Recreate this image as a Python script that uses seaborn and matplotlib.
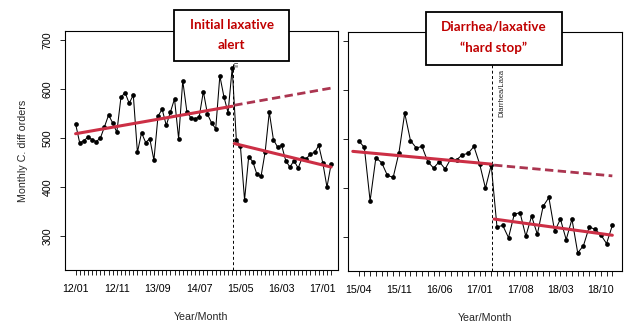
import numpy as np
import pandas as pd
import matplotlib
matplotlib.use("Agg")
import matplotlib.pyplot as plt
import seaborn as sns
from matplotlib.patches import Rectangle

# months shown in each panel (yy/mm)
left_months = pd.period_range("2012-01", "2017-03", freq="M").strftime("%y/%m").tolist()
right_months = pd.period_range("2015-04", "2018-12", freq="M").strftime("%y/%m").tolist()

left_tick_labels = ["12/01", "12/11", "13/09", "14/07", "15/05", "16/03", "17/01"]
right_tick_labels = ["15/04", "15/11", "16/06", "17/01", "17/08", "18/03", "18/10"]
y_ticks = [300, 400, 500, 600, 700]

# monthly C. diff orders
pre_alert_orders = [529, 490, 495, 502, 497, 493, 500, 523, 547, 531, 512, 583, 593,
                    571, 588, 471, 511, 491, 499, 455, 545, 559, 526, 553, 580, 499,
                    617, 554, 541, 539, 544, 595, 549, 531, 519, 627, 584, 552, 643]
# 15/04 - 17/03, shown in both panels
between_orders = [497, 483, 374, 462, 452, 426, 422, 472, 553, 497, 482, 485,
                  454, 441, 454, 439, 460, 458, 468, 471, 485, 449, 400, 447]
post_stop_orders = [321, 324, 299, 347, 350, 302, 343, 306, 363, 381, 312,
                    337, 295, 337, 268, 283, 321, 316, 305, 287, 324]

left_orders = pre_alert_orders + between_orders
right_orders = between_orders + post_stop_orders

# fitted segments (month index, value)
left_pre_x, left_pre_y = [0, 38], [509, 565]
left_post_x, left_post_y = [38.5, 62], [489, 441]
left_cf_x, left_cf_y = [38.5, 62], [567, 602]
right_pre_x, right_pre_y = [-1, 23], [475, 449]
right_post_x, right_post_y = [23.5, 44], [337, 304]
right_cf_x, right_cf_y = [23.5, 44], [447, 425]

left_event = 38.2
right_event = 23.2

RED = "#cc2f45"
RED_DASH = "#ab3550"
BOX_RED = "#c00000"

sns.set_style("ticks")
plt.rcParams["font.family"] = ["Liberation Sans", "DejaVu Sans"]

fig = plt.figure(figsize=(6.24, 3.25), dpi=100)
ax_l = fig.add_axes([0.104, 0.169, 0.4375, 0.735])
ax_r = fig.add_axes([0.558, 0.166, 0.439, 0.735])


def draw_panel(ax, months, orders, tick_labels, pre, post, cf, event, xlim):
    df = pd.DataFrame({"idx": np.arange(len(orders)), "orders": orders})
    sns.lineplot(data=df, x="idx", y="orders", ax=ax, color="black", lw=0.75,
                 marker="o", markersize=3.4, markeredgewidth=0, zorder=3)
    for (xs, ys) in (pre, post):
        sns.lineplot(x=xs, y=ys, ax=ax, color=RED, lw=2.2, zorder=4)
    sns.lineplot(x=cf[0], y=cf[1], ax=ax, color=RED_DASH, lw=2.0, zorder=4,
                 linestyle=(0, (3, 1.6)))
    ax.axvline(event, color="black", lw=0.7, linestyle=(0, (3, 2.5)), zorder=2)

    ax.set_xlim(*xlim)
    ax.set_ylim(231, 718)
    ax.set_xticks(np.arange(len(months)))
    ax.set_xticklabels([m if m in tick_labels else "" for m in months])
    ax.set_yticks(y_ticks)
    ax.set_xlabel("Year/Month", fontsize=7.7, labelpad=13)
    for s in ax.spines.values():
        s.set_visible(True)
        s.set_color("black")
        s.set_linewidth(0.8)
    ax.tick_params(axis="both", direction="out", length=3.6, width=0.6,
                   colors="black", labelsize=7.7)
    ax.tick_params(axis="x", pad=6.5)


draw_panel(ax_l, left_months, left_orders, left_tick_labels,
           (left_pre_x, left_pre_y), (left_post_x, left_post_y),
           (left_cf_x, left_cf_y), left_event, (-2.6, 63.65))
draw_panel(ax_r, right_months, right_orders, right_tick_labels,
           (right_pre_x, right_pre_y), (right_post_x, right_post_y),
           (right_cf_x, right_cf_y), right_event, (-1.8, 45.7))

ax_l.set_ylabel("Monthly C. diff orders", fontsize=7.7, labelpad=11)
ax_l.tick_params(axis="y", pad=5)
plt.setp(ax_l.get_yticklabels(), rotation=90, va="center")
ax_r.set_ylabel("")
ax_r.set_yticklabels([])

# small rotated event labels, the rest is hidden behind the callout boxes
ax_l.text(left_event + 0.9, 645, "In", rotation=90, fontsize=5.5,
          ha="center", va="bottom", zorder=1)
ax_r.text(right_event + 1.7, 545, "Diarrhea/Laxa", rotation=90,
          fontsize=5.5, ha="center", va="bottom", zorder=1)

# callout boxes
boxes = [
    ((0.2788, 0.8123), 0.1843, 0.1569, 0.371, (0.923, 0.8615),
     ["Initial laxative", "alert"]),
    ((0.6822, 0.800), 0.2179, 0.164, 0.791, (0.917, 0.852),
     ["Diarrhea/laxative", "\u201chard stop\u201d"]),
]
for (x0, y0), w, h, xc, ys, lines in boxes:
    fig.patches.append(Rectangle((x0, y0), w, h, transform=fig.transFigure,
                                 facecolor="white", edgecolor="black", lw=1.3,
                                 zorder=10))
    for yy, line in zip(ys, lines):
        fig.text(xc, yy, line, ha="center", va="center", color=BOX_RED,
                 fontsize=9.6, fontweight="bold", family=["Lato", "DejaVu Sans"],
                 zorder=11)

fig.savefig("out.png", dpi=100, facecolor="white")
